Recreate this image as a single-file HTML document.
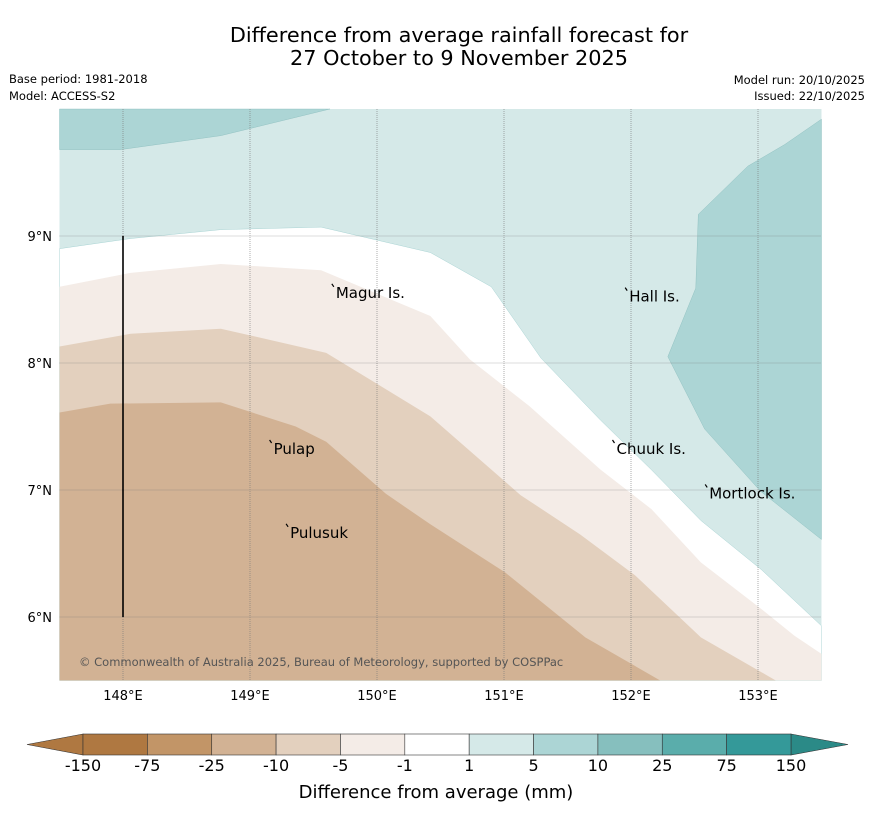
<!DOCTYPE html>
<html><head><meta charset="utf-8"><style>
body{margin:0;background:#fff;width:873px;height:816px;overflow:hidden;font-family:"DejaVu Sans",sans-serif}
svg{display:block}
</style></head><body>
<svg id="chart" width="873" height="816" xmlns="http://www.w3.org/2000/svg" font-family="DejaVu Sans, sans-serif">
<text x="459" y="42" text-anchor="middle" font-size="20.8">Difference from average rainfall forecast for</text>
<text x="459" y="65" text-anchor="middle" font-size="20.8">27 October to 9 November 2025</text>
<text x="9" y="83" font-size="11.5">Base period: 1981-2018</text>
<text x="9" y="100" font-size="11.5">Model: ACCESS-S2</text>
<text x="865" y="84" text-anchor="end" font-size="11.5">Model run: 20/10/2025</text>
<text x="865" y="100" text-anchor="end" font-size="11.5">Issued: 22/10/2025</text>
<g id="map"></g>
<g id="cbar"></g>
<text x="436" y="798" text-anchor="middle" font-size="18">Difference from average (mm)</text>
</svg>
<script>
const lonTicks=[148,149,150,151,152,153];
const latTicks=[6,7,8,9];
const levels=["-150","-75","-25","-10","-5","-1","1","5","10","25","75","150"];
const colors=["#af7841","#c29567","#d2b294","#e3d0be","#f4ece7","#ffffff","#d5e9e8","#acd5d5","#86bfbe","#5aadab","#349999"];
const bWhite=[[147.5,8.9],[148.06,8.98],[148.77,9.05],[149.56,9.07],[150.42,8.87],[150.9,8.6],[151.29,8.04],[151.76,7.55],[152.16,7.16],[152.55,6.76],[153.03,6.37],[153.5,5.93]];
const bM5=[[147.5,8.6],[148.06,8.71],[148.77,8.78],[149.56,8.73],[150.42,8.37],[150.73,8.03],[151.2,7.66],[151.76,7.16],[152.16,6.85],[152.55,6.43],[153.03,6.06],[153.29,5.85],[153.5,5.71]];
const bM10=[[147.5,8.13],[148.06,8.23],[148.77,8.27],[149.6,8.08],[150.42,7.58],[151.13,6.96],[151.6,6.65],[152.03,6.33],[152.55,5.84],[153.14,5.5]];
const bM25=[[147.5,7.61],[147.9,7.68],[148.77,7.69],[149.36,7.5],[149.6,7.38],[150.07,6.97],[150.42,6.73],[151.01,6.35],[151.64,5.84],[152.23,5.5]];
const tealTL=[[147.5,10],[149.63,10],[148.77,9.79],[147.98,9.68],[147.5,9.68]];
const tealR=[[153.5,9.92],[153.21,9.72],[152.92,9.55],[152.53,9.17],[152.51,8.59],[152.29,8.05],[152.58,7.48],[153.02,6.99],[153.5,6.61]];
const places=[["Magur Is.",149.66,8.6],["Hall Is.",151.97,8.57],["Pulap",149.17,7.37],["Pulusuk",149.3,6.71],["Chuuk Is.",151.87,7.37],["Mortlock Is.",152.6,7.02]];
const X=lon=>59.5+(lon-147.5)*127, Y=lat=>236-(lat-9)*127;
const NS="http://www.w3.org/2000/svg";
const map=document.getElementById('map');
function mk(tag,attrs,parent){const e=document.createElementNS(NS,tag);for(const k in attrs)e.setAttribute(k,attrs[k]);(parent||map).appendChild(e);return e;}
function below(b){let d="M"+b.map(p=>X(p[0])+","+Y(p[1])).join(" L");d+=` L${X(b[b.length-1][0])},${Y(5.5)} L${X(147.5)},${Y(5.5)} Z`;return d;}
function poly(b){return "M"+b.map(p=>X(p[0])+","+Y(p[1])).join(" L")+" Z";}
let r=mk('rect',{x:X(147.5),y:Y(10),width:X(153.5)-X(147.5),height:Y(5.5)-Y(10),fill:colors[6]});


[[bWhite,5,'region-minus1-to-1'],[bM5,4,'region-minus5-to-minus1'],[bM10,3,'region-minus10-to-minus5'],[bM25,2,'region-minus25-to-minus10']].forEach(([b,c,n])=>{
 const p=mk('path',{d:below(b),fill:colors[c],stroke:c==5?"#9cc":"none","stroke-width":0.4});
 
 
});
[[tealTL,'region-5-to-10-northwest'],[tealR,'region-5-to-10-east']].forEach(([b,n])=>{
 const p=mk('path',{d:poly(b),fill:colors[7],stroke:"#8bb","stroke-width":0.4});
 
 
});
lonTicks.forEach(v=>{
 const l=mk('line',{x1:X(v),x2:X(v),y1:Y(10),y2:Y(5.5),stroke:"#777","stroke-width":0.6,"stroke-dasharray":"1,1"});
 
 
 const t=mk('text',{x:X(v),y:700,"text-anchor":"middle","font-size":13});t.textContent=v+"°E";
 
 
});
latTicks.forEach(v=>{
 const l=mk('line',{x1:X(147.5),x2:X(153.5),y1:Y(v),y2:Y(v),stroke:"#777","stroke-width":0.6,"stroke-dasharray":"1,1"});
 
 
 const t=mk('text',{x:52,y:Y(v)+5,"text-anchor":"end","font-size":13});t.textContent=v+"°N";
 
 
});
const bl=mk('line',{x1:X(148),x2:X(148),y1:Y(9),y2:Y(6),stroke:"#000","stroke-width":1.6});


places.forEach(([n,lo,la])=>{
 const m=mk('path',{d:`M${X(lo)-2},${Y(la)-3} l2,3`,stroke:"#000","stroke-width":1.2,fill:"none"});
 
 
 const t=mk('text',{x:X(lo)+2,y:Y(la)+11,"font-size":15});t.textContent=n;
 
 
});
const cp=mk('text',{x:79,y:666,"font-size":11.5,fill:"#555"});cp.textContent="© Commonwealth of Australia 2025, Bureau of Meteorology, supported by COSPPac";


const cb=document.getElementById('cbar');
const x0=83,x1=791,w=(x1-x0)/colors.length,y0=734,h=21;
const lt=mk('path',{d:`M${x0},${y0} L27,${y0+h/2} L${x0},${y0+h} Z`,fill:colors[0],stroke:"#333","stroke-width":0.6},cb);


const rt=mk('path',{d:`M${x1},${y0} L848,${y0+h/2} L${x1},${y0+h} Z`,fill:"#2b8a87",stroke:"#333","stroke-width":0.6},cb);


colors.forEach((c,i)=>{
 const b=mk('rect',{x:x0+i*w,y:y0,width:w,height:h,fill:c,stroke:"#333","stroke-width":0.6},cb);
 
 
});
levels.forEach((lv,i)=>{
 const t=mk('text',{x:x0+i*w,y:771,"text-anchor":"middle","font-size":16},cb);
 t.textContent=lv;
 
 
});
</script>
</body></html>
